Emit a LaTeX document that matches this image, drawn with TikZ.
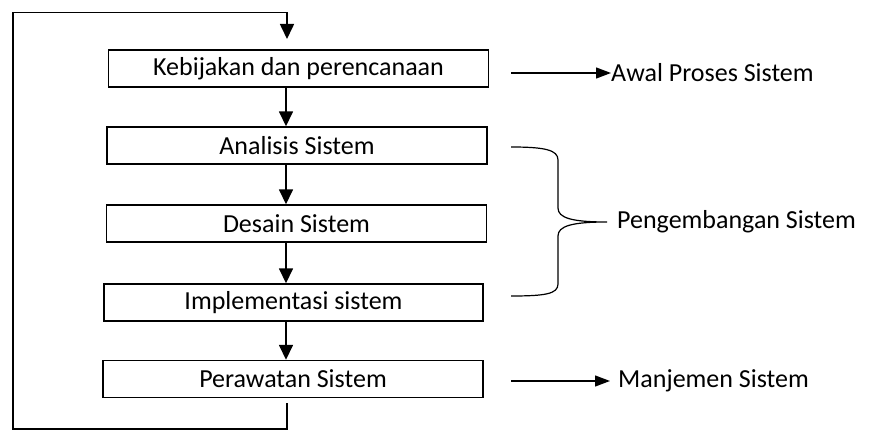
\documentclass[tikz,border=0pt]{standalone}
\usepackage{fontspec}
\setmainfont{Carlito}
\usepackage{tikz}
\usetikzlibrary{arrows.meta,calc}

\begin{document}
\begin{tikzpicture}[
    x=1pt, y=-1pt,
    every node/.style={font=\fontsize{26}{30}\selectfont},
    box/.style={draw, line width=1.4pt, minimum width=380pt, minimum height=37pt,
                inner sep=0pt, align=center},
    lbl/.style={anchor=west, inner sep=0pt},
    arr/.style={-{Triangle[length=15pt,width=14pt]}, line width=1.6pt},
    sarr/.style={-{Triangle[length=15pt,width=11pt]}, line width=1.3pt},
]
    \useasboundingbox (0,0) rectangle (871,430);

    % Main column of steps
    \node[box] (kp) at (298.5, 68.5)  {Kebijakan dan perencanaan};
    \node[box] (as) at (297,  145.5)  {Analisis Sistem};
    \node[box] (ds) at (296.5,223.5)  {Desain Sistem};
    \node[box, minimum width=379pt] (is) at (293.5,302.5) {Implementasi sistem};
    \node[box] (ps) at (293,  379)    {Perawatan Sistem};

    % Spine x and loop corners
    \coordinate (sp)  at (286, 0);
    \coordinate (lb)  at (12.7, 429);
    \coordinate (lt)  at (12.7, 12.7);
    \coordinate (in)  at (287, 39);

    % Main spine
    \draw[arr] (kp.south -| sp) -- (as.north -| sp);
    \draw[arr] (as.south -| sp) -- (ds.north -| sp);
    \draw[arr] (ds.south -| sp) -- (is.north -| sp);
    \draw[arr] (is.south -| sp) -- (ps.north -| sp);

    % Feedback loop: back to the top
    \draw[arr] ([yshift=-5pt]ps.south -| in) -- (in |- lb) -- (lb) -- (lt) -- (lt -| in) -- (in);

    % Labels on the right
    \node[lbl] (aw) at (611, 73)  {Awal Proses Sistem};
    \node[lbl] (pg) at (617, 222) {Pengembangan Sistem};
    \node[lbl] (mj) at (618, 381) {Manjemen Sistem};

    \coordinate (aw0) at (511, 73);
    \coordinate (mj0) at (511, 381);
    \draw[sarr] (aw0) -- (aw.west);
    \draw[sarr] (mj0) -- ([xshift=-8pt]mj.west);

    % Brace
    \draw[line width=1.2pt]
        (511,147) .. controls (545,147) and (558,150) .. (558,160) -- (558,208)
        .. controls (558,218) and (572,222) .. (607,222)
        .. controls (572,222) and (558,226) .. (558,236) -- (558,284)
        .. controls (558,294) and (545,296) .. (511,296);

\end{tikzpicture}
\end{document}
